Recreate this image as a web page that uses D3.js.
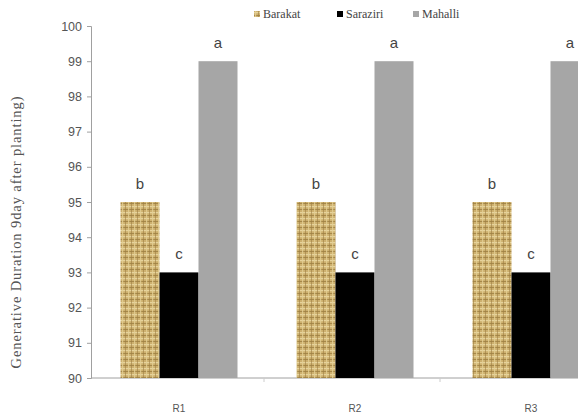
<!DOCTYPE html>
<html>
<head>
<meta charset="utf-8">
<script src="https://cdn.jsdelivr.net/npm/d3@7"></script>
<style>
  body { margin: 0; background: #fff; }
  svg { display: block; }
  .axis text { fill: #555; font-family: 'Liberation Sans', Arial, sans-serif; }
  .axis path, .axis line { stroke: #a0a0a0; }
</style>
</head>
<body>
<div class="chart"></div>
<script>
const categories = ['R1', 'R2', 'R3'];
const seriesNames = ['Barakat', 'Saraziri', 'Mahalli'];
const barakat = [95, 95, 95];
const saraziri = [93, 93, 93];
const mahalli = [99, 99, 99];
const barakatLetters = ['b', 'b', 'b'];
const saraziriLetters = ['c', 'c', 'c'];
const mahalliLetters = ['a', 'a', 'a'];
const yTicks = [90, 91, 92, 93, 94, 95, 96, 97, 98, 99, 100];

const w = 578;
const h = 418;
const margin = { top: 26, right: -41, bottom: 40, left: 91 };
const width = w - margin.left - margin.right;
const height = h - margin.top - margin.bottom;

const series = [
  { name: seriesNames[0], values: barakat, letters: barakatLetters, fill: 'url(#burlap)' },
  { name: seriesNames[1], values: saraziri, letters: saraziriLetters, fill: '#000' },
  { name: seriesNames[2], values: mahalli, letters: mahalliLetters, fill: '#a6a6a6' }
];

const svg = d3.select('.chart').append('svg').attr('width', w).attr('height', h);

// burlap-like texture for Barakat
const defs = svg.append('defs');
const pat = defs.append('pattern')
  .attr('id', 'burlap')
  .attr('patternUnits', 'userSpaceOnUse')
  .attr('width', 6)
  .attr('height', 6);
pat.append('rect').attr('width', 6).attr('height', 6).attr('fill', '#cdb06e');
pat.append('rect').attr('x', 0).attr('y', 0).attr('width', 6).attr('height', 1.2).attr('fill', '#e6d39c');
pat.append('rect').attr('x', 0).attr('y', 3).attr('width', 6).attr('height', 1).attr('fill', '#a68849');
pat.append('rect').attr('x', 1).attr('y', 0).attr('width', 1.2).attr('height', 6).attr('fill', '#e3cf96').attr('opacity', 0.8);
pat.append('rect').attr('x', 4).attr('y', 0).attr('width', 1).attr('height', 6).attr('fill', '#9c7f44').attr('opacity', 0.6);

const g = svg.append('g').attr('transform', `translate(${margin.left},${margin.top})`);

const x0 = d3.scaleBand().domain(categories).range([0, width]);
const x1 = d3.scaleBand().domain(seriesNames).range([x0.bandwidth() / 2 - 58.5, x0.bandwidth() / 2 + 58.5]);
const y = d3.scaleLinear().domain([90, 100]).range([height, 0]);

const axisY = d3.axisLeft(y).tickValues(yTicks).tickSize(4).tickPadding(5);
const gy = g.append('g').attr('class', 'axis axis-y').call(axisY);
gy.selectAll('text').style('font-size', '12.5px');

const axisX = d3.axisBottom(x0).tickSize(0).tickPadding(27);
const gx = g.append('g').attr('class', 'axis axis-x')
  .attr('transform', `translate(0,${height})`)
  .call(axisX);
gx.selectAll('text').style('font-size', '10px');
gx.select('.domain').attr('d', `M0,0H${width}`);

// faint category separators
g.selectAll('.sep')
  .data(categories.slice(1))
  .join('line')
  .attr('class', 'sep')
  .attr('x1', d => x0(d) - 3)
  .attr('x2', d => x0(d) - 3)
  .attr('y1', height)
  .attr('y2', height + 4)
  .attr('stroke', '#ccc');

series.forEach(s => {
  g.selectAll(`.bar-${s.name}`)
    .data(categories)
    .join('rect')
    .attr('class', `bar-${s.name}`)
    .attr('x', d => x0(d) + x1(s.name))
    .attr('width', x1.bandwidth())
    .attr('y', (d, i) => y(s.values[i]))
    .attr('height', (d, i) => height - y(s.values[i]))
    .attr('fill', s.fill);

  g.selectAll(`.lab-${s.name}`)
    .data(categories)
    .join('text')
    .attr('class', `lab-${s.name}`)
    .attr('x', d => x0(d) + x1(s.name) + x1.bandwidth() / 2)
    .attr('y', (d, i) => y(s.values[i]) - 13)
    .attr('text-anchor', 'middle')
    .attr('fill', '#444')
    .style('font-family', 'Liberation Sans, Arial, sans-serif')
    .style('font-size', '15px')
    .text((d, i) => s.letters[i]);
});

// y-axis title
svg.append('text')
  .attr('transform', `translate(21,${margin.top + height / 2 + 30}) rotate(-90)`)
  .attr('text-anchor', 'middle')
  .attr('fill', '#555')
  .style('font-family', 'Liberation Serif, serif')
  .style('font-size', '14.5px')
  .style('letter-spacing', '0.9px')
  .text('Generative Duration 9day after planting)');

// legend
const legendX = [254, 337, 413];
const legend = svg.append('g').attr('class', 'legend');
series.forEach((s, i) => {
  const item = legend.append('g').attr('transform', `translate(${legendX[i]},18)`);
  item.append('rect')
    .attr('x', 0).attr('y', -7)
    .attr('width', 6).attr('height', 6)
    .attr('fill', s.fill);
  item.append('text')
    .attr('x', 9).attr('y', 0)
    .attr('fill', '#444')
    .style('font-family', 'Liberation Serif, serif')
    .style('font-size', '12px')
    .text(s.name);
});
</script>
</body>
</html>
